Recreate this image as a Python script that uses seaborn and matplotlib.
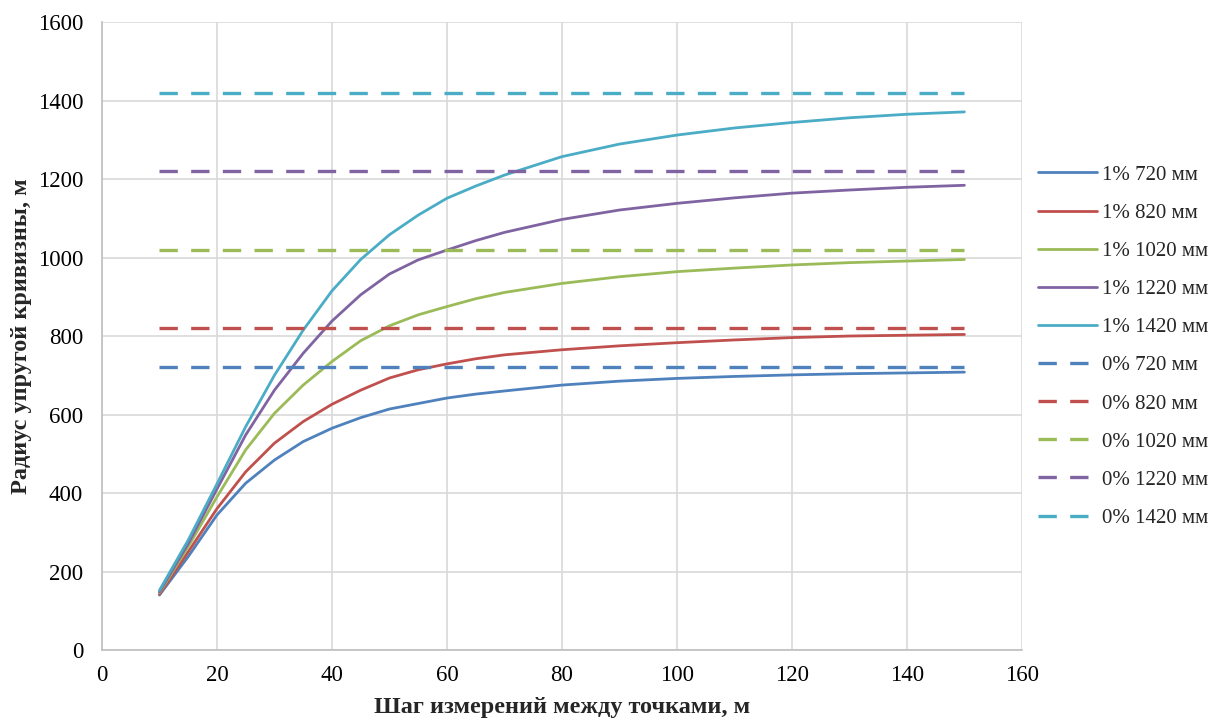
import numpy as np
import pandas as pd
import matplotlib
matplotlib.use("Agg")
import matplotlib.pyplot as plt
import seaborn as sns

sns.set_theme(style="white")
plt.rcParams["font.family"] = ["Liberation Serif", "DejaVu Serif"]

step = [10, 15, 20, 25, 30, 35, 40, 45, 50, 55, 60, 65, 70, 80, 90, 100, 110, 120, 130, 140, 150]
r720 = [140, 238, 344, 425, 484, 531, 565, 592, 614, 628, 642, 652, 660, 675, 685, 692, 697, 701, 704, 706, 708]
r820 = [142, 250, 360, 454, 527, 582, 626, 662, 693, 714, 729, 742, 752, 765, 775, 783, 790, 796, 800, 802, 804]
r1020 = [146, 263, 390, 510, 603, 675, 735, 788, 826, 854, 875, 895, 911, 934, 951, 964, 973, 981, 987, 991, 995]
r1220 = [148, 271, 410, 548, 662, 756, 838, 905, 958, 994, 1019, 1043, 1064, 1097, 1121, 1138, 1152, 1164, 1172, 1179, 1184]
r1420 = [152, 280, 423, 569, 700, 815, 915, 995, 1058, 1108, 1151, 1182, 1210, 1257, 1289, 1312, 1330, 1344, 1356, 1365, 1371]

diameters = [720, 820, 1020, 1220, 1420]
flat_x = [10, 150]
colors = ["#4F81BD", "#C0504D", "#9BBB59", "#8064A2", "#4BACC6"]

fig = plt.figure(figsize=(12.18, 7.22), dpi=100)
ax = fig.add_axes([0.0837, 0.0997, 0.7553, 0.8698])

curves = [r720, r820, r1020, r1220, r1420]
for d, y, c in zip(diameters, curves, colors):
    df = pd.DataFrame({"x": step, "y": y})
    sns.lineplot(data=df, x="x", y="y", ax=ax, color=c, lw=2.0,
                 label=f"1% {d} мм", estimator=None, sort=False)
for d, c in zip(diameters, colors):
    df = pd.DataFrame({"x": flat_x, "y": [d, d]})
    sns.lineplot(data=df, x="x", y="y", ax=ax, color=c, lw=2.4,
                 linestyle=(0, (5.5, 4)), label=f"0% {d} мм", estimator=None)

ax.set_xlim(0, 160)
ax.set_ylim(0, 1600)
ax.set_xticks(range(0, 161, 20))
ax.set_yticks(range(0, 1601, 200))
ax.grid(True, color="#D9D9D9", lw=1.2)
ax.set_axisbelow(True)
for s in ["top", "right"]:
    ax.spines[s].set_visible(False)
for s in ["left", "bottom"]:
    ax.spines[s].set_color("#BFBFBF")
    ax.spines[s].set_linewidth(1.2)
ax.tick_params(axis="both", labelsize=16.5, length=0, colors="#000000")
ax.tick_params(axis="x", pad=11)
ax.tick_params(axis="y", pad=13.5)

ax.set_xlabel("Шаг измерений между точками, м", fontsize=17.5, fontweight="bold", labelpad=8)
ax.set_ylabel("Радиус упругой кривизны, м", fontsize=17.5, fontweight="bold", labelpad=4)

ax.legend(loc="center left", bbox_to_anchor=(0.852, 0.520), bbox_transform=fig.transFigure,
          frameon=False, fontsize=15, handlelength=2.84, labelspacing=0.89,
          handletextpad=0.24, borderpad=0, borderaxespad=0)

fig.savefig("out.png", dpi=100)
